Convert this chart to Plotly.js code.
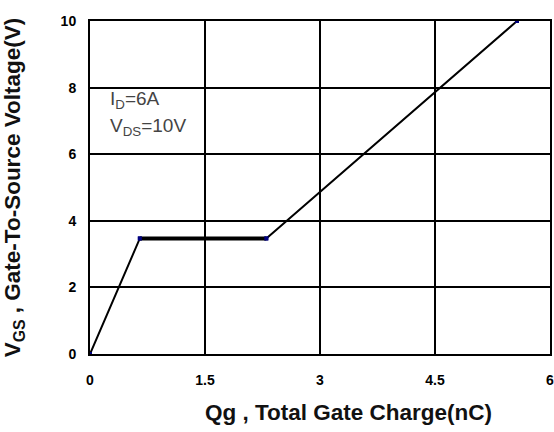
<!DOCTYPE html>
<html>
<head>
<meta charset="utf-8">
<script src="https://cdn.plot.ly/plotly-3.0.1.min.js"></script>
<style>html,body{margin:0;padding:0;background:#fff}#chart{width:554px;height:432px}</style>
</head>
<body>
<div id="chart"></div>
<script>
// Gate charge curve (Qg in nC, VGS in V)
var qg = [0, 0.65, 2.30, 5.57];
var vgs = [0, 3.47, 3.47, 10];
// plateau segment
var plateauQ = [0.65, 2.30];
var plateauV = [3.47, 3.47];
var xTicks = [0, 1.5, 3, 4.5, 6];
var xTickLabels = ['0', '1.5', '3', '4.5', '6'];
var yTicks = [0, 2, 4, 6, 8, 10];
var yTickLabels = ['0', '2', '4', '6', '8', '10'];

var tickFont = {family: 'Liberation Sans Narrow, Liberation Sans, Arial', size: 14, color: '#000', weight: 'bold'};
var titleFont = {family: 'Liberation Sans, Arial', size: 22.5, color: '#111', weight: 'bold'};
var noteFont = {family: 'Liberation Sans, Arial', size: 19, color: '#444'};

var traces = [
  {x: qg, y: vgs, mode: 'lines+markers', line: {color: '#000', width: 2},
   marker: {symbol: 'square', size: 4, color: '#000080'}, hoverinfo: 'x+y', showlegend: false},
  {x: plateauQ, y: plateauV, mode: 'lines+markers', line: {color: '#000', width: 4},
   marker: {symbol: 'square', size: 4, color: '#000080'}, hoverinfo: 'x+y', showlegend: false}
];

var layout = {
  width: 554, height: 432,
  margin: {l: 90, r: 4, t: 21, b: 78},
  paper_bgcolor: '#fff', plot_bgcolor: '#fff',
  xaxis: {
    range: [0, 6], tickvals: xTicks, ticktext: xTickLabels,
    showgrid: true, gridcolor: '#000', gridwidth: 2,
    showline: true, linecolor: '#000', linewidth: 2, mirror: true,
    zeroline: false, ticks: '', tickfont: tickFont, ticklabelstandoff: 12,
    ticklabeloverflow: 'allow'
  },
  yaxis: {
    range: [0, 10], tickvals: yTicks, ticktext: yTickLabels,
    showgrid: true, gridcolor: '#000', gridwidth: 2,
    showline: true, linecolor: '#000', linewidth: 2, mirror: true,
    zeroline: true, zerolinecolor: '#000', zerolinewidth: 3,
    ticks: '', tickfont: tickFont, ticklabelstandoff: 9,
    title: {text: 'V<sub>GS</sub> , Gate-To-Source Voltage(V)', font: titleFont, standoff: 36}
  },
  annotations: [
    {xref: 'paper', yref: 'paper', x: 0.561, y: -0.177, xanchor: 'center', yanchor: 'middle',
     text: 'Qg , Total Gate Charge(nC)', showarrow: false, font: titleFont},
    {xref: 'x', yref: 'y', x: 0.24, y: 7.62, xanchor: 'left', yanchor: 'middle',
     text: 'I<sub>D</sub>=6A', showarrow: false, font: noteFont},
    {xref: 'x', yref: 'y', x: 0.24, y: 6.81, xanchor: 'left', yanchor: 'middle',
     text: 'V<sub>DS</sub>=10V', showarrow: false, font: noteFont}
  ]
};

Plotly.newPlot('chart', traces, layout, {displayModeBar: false, staticPlot: true});
</script>
</body>
</html>
